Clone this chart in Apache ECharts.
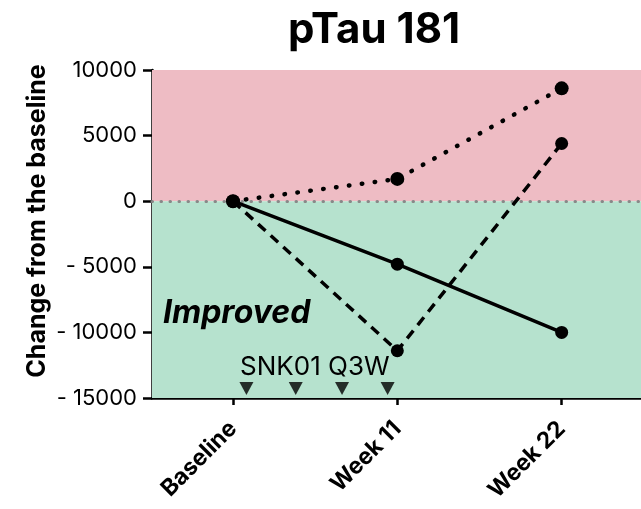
<!DOCTYPE html>
<html>
<head>
<meta charset="utf-8">
<script src="https://cdn.jsdelivr.net/npm/echarts@6/dist/echarts.min.js"></script>
<style>html,body{margin:0;padding:0;background:#fff}#c{width:641px;height:509px}</style>
</head>
<body>
<div id="c"></div>
<script>
const categories = ['Baseline', 'Week 11', 'Week 22'];
const weeks = [0, 11, 22];
const solidSeries = [0, -4800, -10000];
const dashedSeries = [0, -11400, 4400];
const dottedSeries = [0, 1700, 8600];
const doseWeeks = [0.9, 4.2, 7.3, 10.35];
const yTicks = [-15000, -10000, -5000, 0, 5000, 10000];

const FONT = 'Inter';
const chart = echarts.init(document.getElementById('c'));

function pairs(vals) { return vals.map((v, i) => [weeks[i], v]); }

const markerStyle = { color: '#000' };

chart.setOption({
  animation: false,
  backgroundColor: '#fff',
  title: {
    text: 'pTau 181', left: 369, top: 4, textAlign: 'center',
    textStyle: { fontFamily: FONT, fontWeight: 'bold', fontSize: 42, color: '#000' }
  },
  grid: { left: 152, right: 0, top: 70, bottom: 111, containLabel: false },
  xAxis: {
    type: 'value', min: -5.42, max: 27.31,
    axisLine: { show: true, onZero: false, lineStyle: { color: '#000', width: 2.5 } },
    axisTick: { show: true, customValues: weeks, length: 7, lineStyle: { color: '#000', width: 2.5 } },
    axisLabel: {
      customValues: weeks, rotate: 45, margin: 27,
      fontFamily: FONT, fontWeight: 'bold', fontSize: 23, color: '#000',
      formatter: v => categories[weeks.indexOf(v)]
    },
    splitLine: { show: false }
  },
  yAxis: {
    type: 'value', min: -15000, max: 10000, interval: 5000,
    axisLine: { show: true, onZero: false, lineStyle: { color: '#000', width: 2.5 } },
    axisTick: { show: true, length: 9, lineStyle: { color: '#000', width: 2.5 } },
    axisLabel: {
      margin: 15, fontFamily: FONT, fontSize: 22, color: '#000',
      formatter: v => (yTicks.includes(v) ? (v < 0 ? '- ' + Math.abs(v) : String(v)) : '')
    },
    splitLine: { show: false }
  },
  graphic: [
    { type: 'text', x: 37, y: 221, rotation: Math.PI / 2,
      style: { text: 'Change from the baseline', fontFamily: FONT, fontWeight: 'bold', fontSize: 25, fill: '#000', align: 'center', verticalAlign: 'middle' } },
    { type: 'text', left: 163, top: 297, z: 10,
      style: { text: 'Improved', fontFamily: FONT, fontWeight: 'bold', fontStyle: 'italic', fontSize: 32, fill: '#000' } },
    { type: 'text', left: 240, top: 354, z: 10,
      style: { text: 'SNK01 Q3W', fontFamily: FONT, fontSize: 26, fill: '#000' } }
  ],
  series: [
    {
      type: 'line', data: pairs(solidSeries), symbol: 'circle', symbolSize: 13,
      itemStyle: markerStyle, lineStyle: { color: '#000', width: 3.5 }, z: 5,
      markArea: {
        silent: true,
        data: [
          [{ yAxis: 0, itemStyle: { color: '#EEBCC4' } }, { yAxis: 10000 }],
          [{ yAxis: -15000, itemStyle: { color: '#B6E2CE' } }, { yAxis: 0 }]
        ]
      },
      markLine: {
        silent: true, symbol: 'none', label: { show: false },
        lineStyle: { color: '#888', width: 3, type: [0.5, 8.5], cap: 'round' },
        data: [{ yAxis: 0 }]
      }
    },
    {
      type: 'line', data: pairs(dashedSeries), symbol: 'circle', symbolSize: 13,
      itemStyle: markerStyle, lineStyle: { color: '#000', width: 3.5, type: [10, 7] }, z: 5
    },
    {
      type: 'line', data: pairs(dottedSeries), symbol: 'circle', symbolSize: 14,
      itemStyle: markerStyle, lineStyle: { color: '#000', width: 4.5, type: [0.5, 12.5], cap: 'round' }, z: 5
    },
    {
      type: 'scatter', data: doseWeeks.map(w => [w, yTicks[0]]), symbol: 'triangle',
      symbolRotate: 180, symbolSize: [14, 13], symbolOffset: [0, -9.5],
      itemStyle: markerStyle, z: 6
    }
  ]
});
</script>
</body>
</html>
